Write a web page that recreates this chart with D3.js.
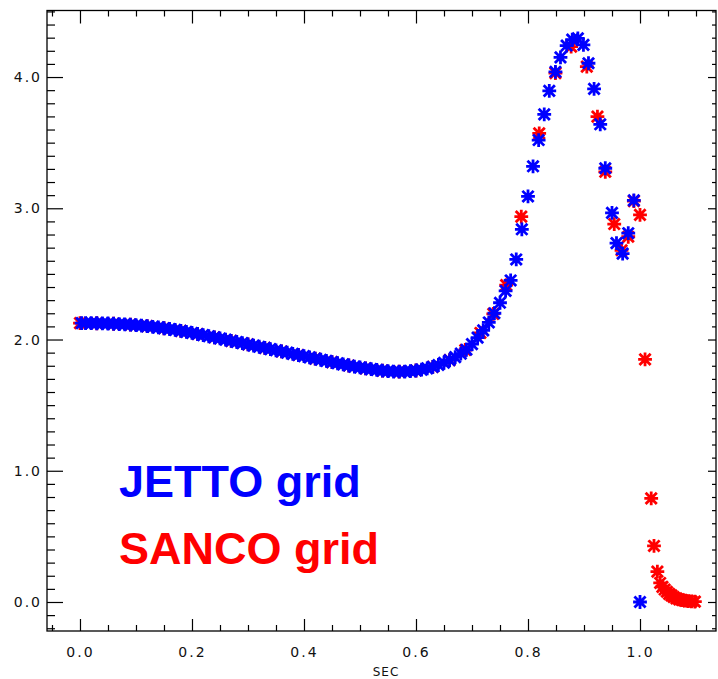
<!DOCTYPE html>
<html><head><meta charset="utf-8">
<script src="https://cdn.jsdelivr.net/npm/d3@7"></script>
<style>html,body{margin:0;padding:0;background:#fff;}svg{display:block;}</style>
</head><body>
<svg id="c" width="718" height="679"></svg>
<script>
// ---- data ----
const jettoX = [0.003,0.01,0.02,0.03,0.04,0.05,0.06,0.07,0.08,0.09,0.10,0.11,0.12,0.13,0.14,0.15,0.16,0.17,0.18,0.19,
  0.20,0.21,0.22,0.23,0.24,0.25,0.26,0.27,0.28,0.29,0.30,0.31,0.32,0.33,0.34,0.35,0.36,0.37,0.38,0.39,
  0.40,0.41,0.42,0.43,0.44,0.45,0.46,0.47,0.48,0.49,0.50,0.51,0.52,0.53,0.54,0.55,0.56,0.57,0.58,0.59,
  0.60,0.61,0.62,0.63,0.64,0.65,0.66,0.67,0.68,0.69,0.70,0.71,0.72,0.73,0.74,0.75,0.76,0.769,0.779,0.789,
  0.800,0.809,0.819,0.829,0.838,0.849,0.858,0.869,0.879,0.889,0.899,0.908,0.918,0.929,0.938,0.950,0.958,0.969,0.979,0.989,1.000];
const jettoY = [2.125,2.125,2.125,2.124,2.123,2.122,2.120,2.118,2.116,2.113,2.110,2.106,2.102,2.097,2.092,2.086,2.080,2.073,2.066,2.058,
  2.050,2.042,2.034,2.025,2.017,2.008,1.999,1.990,1.981,1.972,1.963,1.954,1.945,1.936,1.927,1.918,1.909,1.900,1.891,1.882,
  1.873,1.864,1.855,1.846,1.837,1.828,1.819,1.810,1.802,1.794,1.787,1.780,1.774,1.768,1.763,1.759,1.756,1.755,1.756,1.759,
  1.764,1.771,1.780,1.792,1.806,1.823,1.843,1.866,1.892,1.922,1.965,2.015,2.070,2.130,2.200,2.280,2.370,2.450,2.610,2.840,
  3.090,3.320,3.520,3.715,3.895,4.040,4.150,4.240,4.285,4.295,4.245,4.105,3.910,3.640,3.305,2.965,2.735,2.655,2.810,3.060,0.000];

const sancoX = [0.000,0.030,0.060,0.090,0.120,0.150,0.180,0.210,0.240,0.270,0.300,0.330,0.360,0.390,0.420,0.450,0.480,0.510,0.540,0.570,
  0.600,0.630,0.660,0.688,0.715,0.738,0.761,0.788,0.820,0.849,0.877,0.905,0.924,0.938,0.954,0.967,0.979,0.989,1.000,1.009,
  1.020,1.025,1.031,1.036,1.040,1.044,1.048,1.052,1.056,1.060,1.065,1.070,1.075,1.080,1.086,1.092,1.098];
const sancoY = [2.125,2.124,2.120,2.113,2.102,2.086,2.066,2.042,2.017,1.990,1.963,1.936,1.909,1.882,1.855,1.828,1.802,1.780,1.763,1.755,
  1.764,1.792,1.843,1.920,2.050,2.195,2.415,2.936,3.571,4.030,4.231,4.079,3.698,3.278,2.880,2.680,2.783,3.055,2.950,1.849,
  0.790,0.427,0.231,0.145,0.115,0.095,0.078,0.062,0.050,0.038,0.028,0.020,0.015,0.010,0.007,0.004,0.003];

const xMajor = [0, 0.2, 0.4, 0.6, 0.8, 1.0];
const xTickLabels = ["0.0", "0.2", "0.4", "0.6", "0.8", "1.0"];
const yMajor = [0, 1, 2, 3, 4];
const yTickLabels = ["0.0", "1.0", "2.0", "3.0", "4.0"];
const xTitle = "SEC";
const legendLabels = ["JETTO grid", "SANCO grid"];

// ---- layout ----
const L = 47, R = 716, T = 10.5, B = 631;
const svg = d3.select("#c");
svg.append("rect").attr("width", 718).attr("height", 679).attr("fill", "#fff");

const x = d3.scaleLinear().domain([-0.0589, 1.1357]).range([L, R]);
const y = d3.scaleLinear().domain([-0.221, 4.507]).range([B, T]);

const xMinor = d3.range(-0.05, 1.12, 0.05).map(v => +v.toFixed(2)).filter(v => !xMajor.some(m => Math.abs(m - v) < 1e-6));
const yMinor = d3.range(-0.2, 4.51, 0.1).map(v => +v.toFixed(1)).filter(v => !yMajor.some(m => Math.abs(m - v) < 1e-6));

function styleAxis(g) {
  g.select(".domain").remove();
  g.selectAll(".tick line").attr("stroke", "#000").attr("stroke-width", 1.2);
}
const font = "DejaVu Sans, sans-serif";

// bottom
svg.append("g").attr("transform", `translate(0,${B})`)
  .call(d3.axisBottom(x).tickValues(xMajor).tickSize(-12).tickPadding(16)
    .tickFormat((d, i) => xTickLabels[i]))
  .call(styleAxis)
  .call(g => g.selectAll("text").attr("font-family", font).attr("font-size", 14)
    .attr("fill", "#111").attr("letter-spacing", "2px"));
svg.append("g").attr("transform", `translate(0,${B})`)
  .call(d3.axisBottom(x).tickValues(xMinor).tickSize(-6).tickFormat(""))
  .call(styleAxis);
// top
svg.append("g").attr("transform", `translate(0,${T})`)
  .call(d3.axisTop(x).tickValues(xMajor).tickSize(-13).tickFormat(""))
  .call(styleAxis);
svg.append("g").attr("transform", `translate(0,${T})`)
  .call(d3.axisTop(x).tickValues(xMinor).tickSize(-6).tickFormat(""))
  .call(styleAxis);
// left
svg.append("g").attr("transform", `translate(${L},0)`)
  .call(d3.axisLeft(y).tickValues(yMajor).tickSize(-16).tickPadding(5)
    .tickFormat((d, i) => yTickLabels[i]))
  .call(styleAxis)
  .call(g => g.selectAll("text").attr("font-family", font).attr("font-size", 14)
    .attr("fill", "#111").attr("letter-spacing", "2px"));
svg.append("g").attr("transform", `translate(${L},0)`)
  .call(d3.axisLeft(y).tickValues(yMinor).tickSize(-8).tickFormat(""))
  .call(styleAxis);
// right
svg.append("g").attr("transform", `translate(${R},0)`)
  .call(d3.axisRight(y).tickValues(yMajor).tickSize(-8).tickFormat(""))
  .call(styleAxis);
svg.append("g").attr("transform", `translate(${R},0)`)
  .call(d3.axisRight(y).tickValues(yMinor).tickSize(-4).tickFormat(""))
  .call(styleAxis);

// frame
svg.append("rect").attr("x", L).attr("y", T).attr("width", R - L).attr("height", B - T)
  .attr("fill", "none").attr("stroke", "#000").attr("stroke-width", 1.3);

// x title
svg.append("text").attr("x", 386).attr("y", 676).attr("text-anchor", "middle")
  .attr("font-family", font).attr("font-size", 12).attr("letter-spacing", "1px")
  .attr("fill", "#111").text(xTitle);

// asterisk markers
const s = 5.5, d = 4.6;
const star = `M${-s},0L${s},0M0,${-s}L0,${s}M${-d},${-d}L${d},${d}M${-d},${d}L${d},${-d}`;
function drawSeries(xs, ys, color) {
  svg.append("g").selectAll("path").data(xs.map((v, i) => [v, ys[i]])).join("path")
    .attr("d", star)
    .attr("transform", p => `translate(${x(p[0])},${y(p[1])})`)
    .attr("fill", "none").attr("stroke", color).attr("stroke-width", 2.8)
    .attr("stroke-linecap", "square");
}
drawSeries(sancoX, sancoY, "#ff0000");
drawSeries(jettoX, jettoY, "#0000ff");

// legend labels
svg.append("text").attr("x", 119).attr("y", 497).attr("font-family", "Liberation Sans, Arial, sans-serif")
  .attr("font-weight", "bold").attr("font-size", 45).attr("fill", "#0000ff").text(legendLabels[0]);
svg.append("text").attr("x", 119).attr("y", 564).attr("font-family", "Liberation Sans, Arial, sans-serif")
  .attr("font-weight", "bold").attr("font-size", 45).attr("fill", "#ff0000").text(legendLabels[1]);
</script>
</body></html>
